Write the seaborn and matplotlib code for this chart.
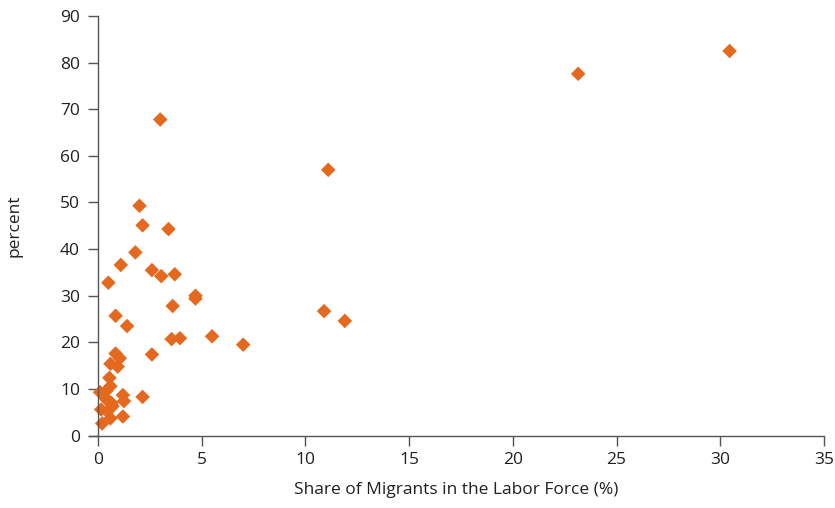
import pandas as pd
import seaborn as sns
import matplotlib.pyplot as plt

sns.set_style("white")
plt.rcParams['font.family'] = ['Open Sans', 'DejaVu Sans']

# share of migrants in labor force (%) vs percent
migrant_share = [30.45, 23.15, 11.1, 3.0, 10.9, 11.9, 7.0, 5.5, 2.0, 2.15,
                 3.4, 1.8, 1.1, 2.6, 3.05, 3.7, 0.5, 4.7, 4.7, 3.6,
                 0.85, 1.4, 3.55, 3.95, 2.6, 0.85, 1.05, 0.6, 0.95, 0.55,
                 0.6, 0.1, 0.4, 1.2, 2.15, 0.45, 1.25, 0.7, 0.15, 0.45,
                 0.6, 1.2, 0.2, 0.35, 0.65]
percent = [82.5, 77.6, 57.0, 67.8, 26.7, 24.6, 19.5, 21.3, 49.3, 45.1,
           44.3, 39.3, 36.6, 35.5, 34.2, 34.6, 32.8, 30.0, 29.4, 27.8,
           25.7, 23.5, 20.7, 20.9, 17.4, 17.6, 16.6, 15.4, 14.8, 12.4,
           10.6, 9.3, 9.6, 8.7, 8.3, 7.6, 7.4, 6.3, 5.6, 5.2,
           3.7, 4.1, 2.6, 8.1, 7.0]

data = pd.DataFrame({'share': migrant_share, 'percent': percent})

fig = plt.figure(figsize=(8.35, 5.08), dpi=100)
ax = fig.add_axes([0.1062, 0.1425, 0.8806, 0.826])

sns.scatterplot(data=data, x='share', y='percent', marker='D', s=55,
                color='#e5681f', edgecolor='none', ax=ax)

ax.set_xlim(-0.45, 35)
ax.set_ylim(0, 90)
ax.set_xticks(range(0, 36, 5))
ax.set_yticks(range(0, 91, 10))

for side in ['top', 'right']:
    ax.spines[side].set_visible(False)
ax.spines['left'].set_position(('data', 0))
for side in ['left', 'bottom']:
    ax.spines[side].set_color('#555555')
    ax.spines[side].set_linewidth(1.0)

ax.tick_params(axis='both', direction='out', length=7, width=1,
               color='#555555', labelsize=12.5, labelcolor='#231f20',
               bottom=True, left=True)
ax.tick_params(axis='y', pad=6)
ax.tick_params(axis='x', pad=5)

ax.set_xlabel('Share of Migrants in the Labor Force (%)', fontsize=12.5,
              color='#231f20', labelpad=10)
ax.set_ylabel('percent', fontsize=12.5, color='#231f20', labelpad=27)

fig.savefig('out.png', dpi=100)
